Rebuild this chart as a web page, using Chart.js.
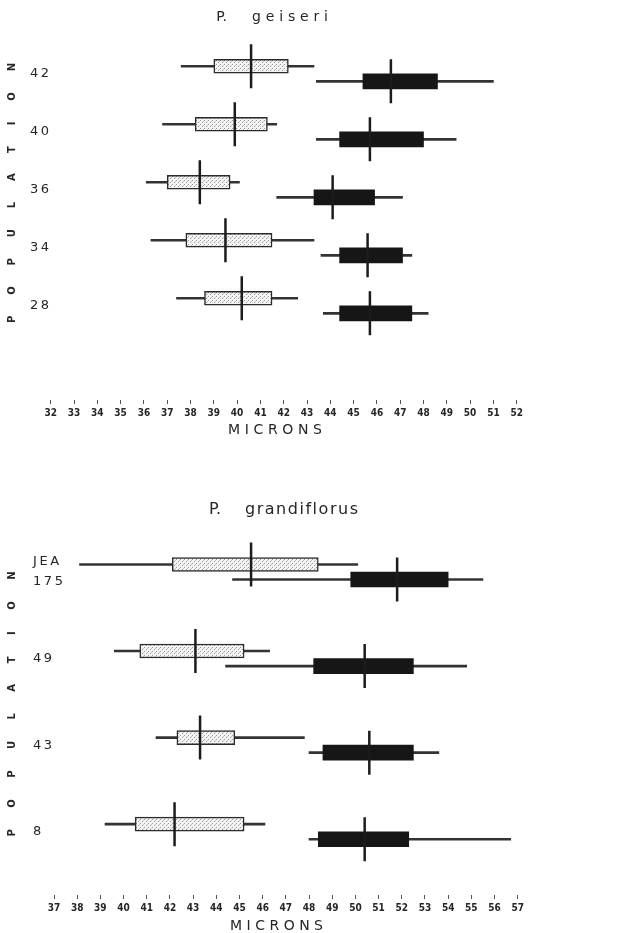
<!DOCTYPE html>
<html>
<head>
<meta charset="utf-8">
<title>P. geiseri / P. grandiflorus</title>
<script src="https://cdn.jsdelivr.net/npm/chart.js@4.4.1/dist/chart.umd.min.js"></script>
<style>
  html, body { margin: 0; padding: 0; background: #fff; }
  body { width: 642px; height: 933px; position: relative; overflow: hidden; }
  canvas { position: absolute; left: 0; }
  #geiseri { top: 0; }
  #grandiflorus { top: 455px; }
</style>
</head>
<body>
<canvas id="geiseri" width="642" height="450"></canvas>
<canvas id="grandiflorus" width="642" height="478"></canvas>
<script>
// ── P. geiseri (top panel) ────────────────────────────
const geiseriRows  = ['42', '40', '36', '34', '28'];
const geiseriTicks = [32, 33, 34, 35, 36, 37, 38, 39, 40, 41, 42, 43, 44, 45, 46, 47, 48, 49, 50, 51, 52];

// stippled boxes
const geiseriOpenMin  = [37.6, 36.8, 36.1, 36.3, 37.4];
const geiseriOpenLow  = [39.0, 38.2, 37.0, 37.8, 38.6];
const geiseriOpenMean = [40.6, 39.9, 38.4, 39.5, 40.2];
const geiseriOpenHigh = [42.2, 41.3, 39.7, 41.5, 41.5];
const geiseriOpenMax  = [43.3, 41.7, 40.1, 43.3, 42.6];

// solid boxes
const geiseriSolidMin  = [43.4, 43.4, 41.7, 43.6, 43.7];
const geiseriSolidLow  = [45.4, 44.4, 43.3, 44.4, 44.4];
const geiseriSolidMean = [46.6, 45.7, 44.1, 45.6, 45.7];
const geiseriSolidHigh = [48.6, 48.0, 45.9, 47.1, 47.5];
const geiseriSolidMax  = [51.0, 49.4, 47.1, 47.5, 48.2];

// ── P. grandiflorus (bottom panel) ────────────────────
const grandiRows  = ['JEA 175', '49', '43', '8'];
const grandiTicks = [37, 38, 39, 40, 41, 42, 43, 44, 45, 46, 47, 48, 49, 50, 51, 52, 53, 54, 55, 56, 57];

const grandiOpenMin  = [38.1, 39.6, 41.4, 39.2];
const grandiOpenLow  = [42.1, 40.7, 42.3, 40.5];
const grandiOpenMean = [45.5, 43.1, 43.3, 42.2];
const grandiOpenHigh = [48.4, 45.2, 44.8, 45.2];
const grandiOpenMax  = [50.1, 46.3, 47.8, 46.1];

const grandiSolidMin  = [44.7, 44.4, 48.0, 48.0];
const grandiSolidLow  = [49.8, 48.2, 48.6, 48.4];
const grandiSolidMean = [51.8, 50.4, 50.6, 50.4];
const grandiSolidHigh = [54.0, 52.5, 52.5, 52.3];
const grandiSolidMax  = [55.5, 54.8, 53.6, 56.7];

const INK = '#262626';
const TICK_FONT = "'Liberation Sans Narrow', 'DejaVu Sans Condensed', 'Liberation Sans', sans-serif";

// ── stipple fill for the open boxes ───────────────────
function stipple() {
  const c = document.createElement('canvas');
  c.width = 4; c.height = 4;
  const g = c.getContext('2d');
  g.fillStyle = '#f4f4f4';
  g.fillRect(0, 0, 4, 4);
  g.fillStyle = '#9a9a9a';
  g.fillRect(0, 0, 1, 1);
  g.fillRect(2, 2, 1, 1);
  g.fillStyle = '#c4c4c4';
  g.fillRect(3, 1, 1, 1);
  return g.createPattern(c, 'repeat');
}

// ── letter-spaced captions (titles, MICRONS, POPULATION) ──
function captions(items) {
  return {
    id: 'captions',
    afterDraw(chart) {
      const ctx = chart.ctx;
      items.forEach(t => {
        ctx.save();
        ctx.translate(t.x, t.y);
        ctx.rotate(t.angle || 0);
        ctx.font = t.font;
        ctx.fillStyle = INK;
        ctx.textBaseline = 'middle';
        ctx.letterSpacing = '0px';
        if (t.span) {
          const w = ctx.measureText(t.text).width;
          const gap = (t.span - w) / (t.text.length - 1);
          ctx.letterSpacing = gap + 'px';
          ctx.textAlign = 'left';
          ctx.fillText(t.text, -t.span / 2, 0);
        } else {
          ctx.textAlign = 'center';
          ctx.fillText(t.text, 0, 0);
        }
        ctx.restore();
      });
    }
  };
}

// ── one panel ─────────────────────────────────────────
function buildPanel(id, rows, ticks, open, solid, lay, items) {
  const rowPos = i => rows.length - i;
  const up = lay.rowOffset, down = -lay.rowOffset;
  const means = (vals, shift) => vals.map((v, i) => ({ x: v, y: rowPos(i) + shift }));
  const spans = (lo, hi, shift) => lo.map((v, i) => ({ x: [v, hi[i]], y: rowPos(i) + shift }));
  const fill = stipple();

  const meanStyle = {
    type: 'scatter', pointStyle: 'line', rotation: 90,
    pointRadius: 22, pointHoverRadius: 22, borderWidth: 2.5,
    borderColor: '#1c1c1c', order: 0
  };
  const barBase = { type: 'bar', indexAxis: 'y', grouped: false, borderSkipped: false, borderRadius: 0 };

  return new Chart(document.getElementById(id), {
    type: 'bar',
    data: {
      datasets: [
        { ...meanStyle, data: means(open.mean, up) },
        { ...meanStyle, data: means(solid.mean, down) },
        { ...barBase, data: spans(open.low, open.high, up), barThickness: 14,
          backgroundColor: fill, borderColor: '#2a2a2a', borderWidth: 1.5, order: 1 },
        { ...barBase, data: spans(solid.low, solid.high, down), barThickness: 15,
          backgroundColor: '#161616', borderWidth: 0, order: 1 },
        { ...barBase, data: spans(open.min, open.max, up), barThickness: 2,
          backgroundColor: '#333', borderWidth: 0, order: 2 },
        { ...barBase, data: spans(solid.min, solid.max, down), barThickness: 2,
          backgroundColor: '#333', borderWidth: 0, order: 2 }
      ]
    },
    options: {
      responsive: false,
      animation: false,
      devicePixelRatio: 1,
      events: [],
      layout: { padding: lay.padding },
      plugins: { legend: { display: false }, tooltip: { enabled: false } },
      scales: {
        x: {
          type: 'linear',
          offset: false,
          beginAtZero: false,
          min: ticks[0],
          max: ticks[ticks.length - 1],
          afterBuildTicks: s => { s.ticks = ticks.map(v => ({ value: v })); },
          afterFit: s => { s.height = lay.axisHeight; },
          grid: { offset: false, drawOnChartArea: false, drawTicks: true, tickLength: 4, color: '#555', lineWidth: 1 },
          border: { display: false },
          ticks: {
            autoSkip: false, maxRotation: 0, padding: 3, color: INK,
            font: { family: TICK_FONT, size: 10, weight: 'bold' }
          }
        },
        y: {
          type: 'linear',
          offset: false,
          beginAtZero: false,
          min: lay.yMin,
          max: lay.yMax,
          afterBuildTicks: s => { s.ticks = rows.map((_, i) => ({ value: rowPos(i) })); },
          afterFit: s => { s.width = lay.labelWidth; },
          grid: { offset: false, display: false, drawTicks: false },
          border: { display: false },
          ticks: {
            autoSkip: false, mirror: true, crossAlign: 'near', padding: -lay.labelWidth, color: INK,
            font: { family: "'DejaVu Sans', sans-serif", size: 13, lineHeight: 1.55 },
            callback: (v, i) => rows[i].split(' ').map(w => w.split('').join('\u2009'))
          }
        }
      }
    },
    plugins: [captions(items)]
  });
}

// ── INIT ──────────────────────────────────────────────
buildPanel('geiseri', geiseriRows, geiseriTicks,
  { min: geiseriOpenMin, low: geiseriOpenLow, mean: geiseriOpenMean, high: geiseriOpenHigh, max: geiseriOpenMax },
  { min: geiseriSolidMin, low: geiseriSolidLow, mean: geiseriSolidMean, high: geiseriSolidHigh, max: geiseriSolidMax },
  { padding: { top: 40, left: 30, right: 125.3, bottom: 0 }, labelWidth: 20.7, axisHeight: 50,
    yMin: -0.624, yMax: 5.583, rowOffset: 0.13 },
  [
    { text: 'P.', x: 221.5, y: 17, font: "14px 'DejaVu Sans'" },
    { text: 'geiseri', x: 290, y: 17, span: 76, font: "14px 'DejaVu Sans'" },
    { text: 'MICRONS', x: 275, y: 430, span: 94, font: "14px 'DejaVu Sans'" },
    { text: 'POPULATION', x: 12.5, y: 193, span: 260, font: "bold 10px 'DejaVu Sans'", angle: -Math.PI / 2 }
  ]);

buildPanel('grandiflorus', grandiRows, grandiTicks,
  { min: grandiOpenMin, low: grandiOpenLow, mean: grandiOpenMean, high: grandiOpenHigh, max: grandiOpenMax },
  { min: grandiSolidMin, low: grandiSolidLow, mean: grandiSolidMean, high: grandiSolidHigh, max: grandiSolidMax },
  { padding: { top: 30, left: 33, right: 124.3, bottom: 0 }, labelWidth: 21, axisHeight: 38,
    yMin: 0.269, yMax: 5.005, rowOffset: 0.087 },
  [
    { text: 'P.', x: 215, y: 55, font: "16px 'DejaVu Sans'" },
    { text: 'grandiflorus', x: 301.5, y: 55, span: 113, font: "16px 'DejaVu Sans'" },
    { text: 'MICRONS', x: 276.5, y: 471, span: 93, font: "14px 'DejaVu Sans'" },
    { text: 'POPULATION', x: 12.5, y: 249, span: 265, font: "bold 10px 'DejaVu Sans'", angle: -Math.PI / 2 }
  ]);
</script>
</body>
</html>
